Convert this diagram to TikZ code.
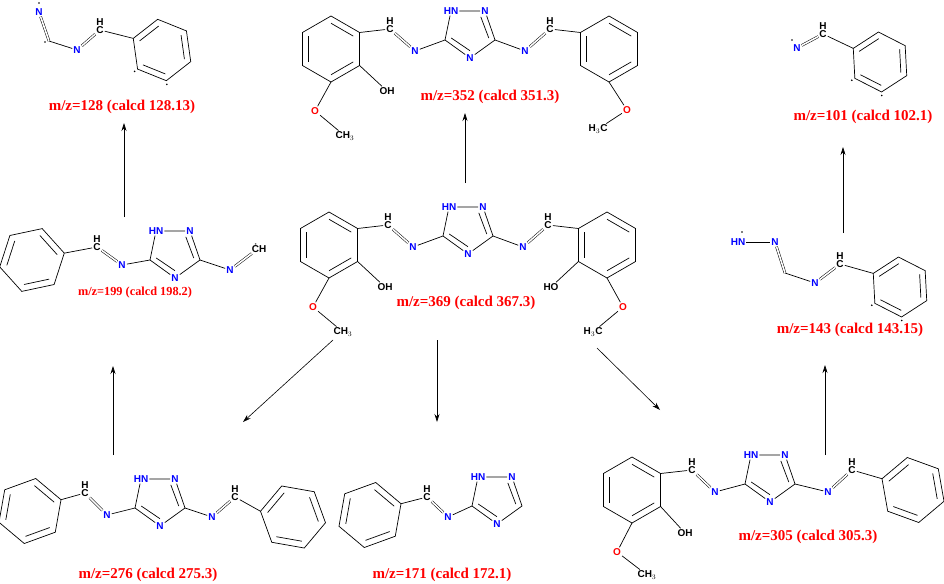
\documentclass[tikz,border=0pt]{standalone}
\usepackage{fontspec}
\setmainfont{Liberation Serif}
\setsansfont{Liberation Sans}
\usetikzlibrary{arrows.meta,calc}

\tikzset{
  bond/.style={line width=0.7pt},
  dbl/.style={double, double distance=1.6pt, line width=0.5pt},
  atom/.style={font=\sffamily\bfseries\fontsize{10}{10}\selectfont, inner sep=1pt},
  natom/.style={atom, text=blue},
  oatom/.style={atom, text=red},
  hlab/.style={atom, inner sep=0pt},
  catom/.style={atom, label={[hlab]90:H}},
  mz/.style={text=red, font=\bfseries\fontsize{15}{16}\selectfont},
  mzsmall/.style={text=red, font=\bfseries\fontsize{12.3}{13}\selectfont},
  frag/.style={-{Stealth[length=8pt,width=5pt]}, line width=0.6pt},
}

% ring: name, centre, rotation, radius
\newcommand\hexring[4]{%
  \coordinate (#1) at (#2);
  \foreach \k in {1,...,6}{\coordinate (#1-\k) at ($(#1)+({#3+60*\k-90}:#4)$);}
  \draw[bond] (#1-1) -- (#1-2) -- (#1-3) -- (#1-4) -- (#1-5) -- (#1-6) -- cycle;
  \foreach \a/\b in {2/3,4/5,6/1}
    \draw[bond] ($(#1)!0.78!(#1-\a)$) -- ($(#1)!0.78!(#1-\b)$);
}
% triazole: name, centre
\newcommand\triaz[2]{%
  \coordinate (#1) at (#2);
  \node[natom] (#1-b) at ($(#1)+(0,26)$) {N};
  \coordinate (#1-r) at ($(#1)+(25,8)$);
  \node[natom] (#1-tr) at ($(#1)+(15,-21)$) {N};
  \node[natom] (#1-tl) at ($(#1)+(-19,-21)$) {HN};
  \coordinate (#1-l) at ($(#1)+(-25,8)$);
  \draw[bond] (#1-l) -- (#1-tl) -- (#1-tr) -- (#1-r) -- (#1-b) -- (#1-l);
  \draw[bond] ($(#1)!0.72!(#1-tr)$) -- ($(#1)!0.75!(#1-r)$);
  \draw[bond] ($(#1)!0.72!(#1-b)$) -- ($(#1)!0.75!(#1-l)$);
}
% imine arm: name, triazole vertex, N, C, ring centre, ring rotation, ring vertex
\newcommand\arm[7]{%
  \node[natom] (#1-n) at (#3) {N};
  \node[catom] (#1-c) at (#4) {C};
  \hexring{#1-ring}{#5}{#6}{33}
  \draw[bond] (#2) -- (#1-n);
  \draw[dbl] (#1-n) -- (#1-c);
  \draw[bond] (#1-c) -- (#1-ring-#7);
}
\newcommand\rad[1]{\fill (#1) circle (0.9pt);}

\begin{document}
\begin{tikzpicture}[x=1pt,y=-1pt]
\useasboundingbox (0,0) rectangle (944,583);

% m/z 369
\begin{scope}[shift={(468,228)}]
  \triaz{c}{0,0}
  \arm{cl}{c-l}{-55,19}{-80,-3}{-139,17}{0}{1}
  \arm{cr}{c-r}{55,19}{80,-3}{139,17}{0}{5}
  \node[atom] (cl-oh) at (-83,59) {OH};
  \node[oatom] (cl-o) at (-155,79) {O};
  \node[atom] (cl-me) at (-125,104) {CH$_3$};
  \draw[bond] (cl-ring-2) -- (cl-oh);
  \draw[bond] (cl-ring-3) -- (cl-o) -- (cl-me);
  \node[atom] (cr-ho) at (83,59) {HO};
  \node[oatom] (cr-o) at (155,79) {O};
  \node[atom] (cr-me) at (125,104) {H$_3$C};
  \draw[bond] (cr-ring-4) -- (cr-ho);
  \draw[bond] (cr-ring-3) -- (cr-o) -- (cr-me);
\end{scope}

% m/z 352
\begin{scope}[shift={(470,32)}]
  \triaz{t}{0,0}
  \arm{tl}{t-l}{-55,19}{-80,-3}{-139,17}{0}{1}
  \arm{tr}{t-r}{55,19}{80,-3}{139,17}{0}{5}
  \node[atom] (tl-oh) at (-83,59) {OH};
  \node[oatom] (tl-o) at (-155,79) {O};
  \node[atom] (tl-me) at (-125,104) {CH$_3$};
  \draw[bond] (tl-ring-2) -- (tl-oh);
  \draw[bond] (tl-ring-3) -- (tl-o) -- (tl-me);
  \node[oatom] (tr-o) at (157,78) {O};
  \node[atom] (tr-me) at (128,97) {H$_3$C};
  \draw[bond] (tr-ring-3) -- (tr-o) -- (tr-me);
\end{scope}

% m/z 305
\begin{scope}[shift={(770,476)}]
  \triaz{e}{0,0}
  \arm{el}{e-l}{-55,16}{-78,-6}{-138,14}{0}{1}
  \arm{er}{e-r}{58,16}{82,-6}{143,14}{50}{4}
  \node[atom] (el-oh) at (-85,57) {OH};
  \node[oatom] (el-o) at (-153,76) {O};
  \node[atom] (el-me) at (-123,99) {CH$_3$};
  \draw[bond] (el-ring-2) -- (el-oh);
  \draw[bond] (el-ring-3) -- (el-o) -- (el-me);
\end{scope}

% m/z 276
\begin{scope}[shift={(160,500)}]
  \triaz{w}{0,0}
  \arm{wl}{w-l}{-53,15}{-75,-7}{-130,11}{10}{1}
  \arm{wr}{w-r}{52,17}{75,-3}{133,17}{40}{4}
\end{scope}

% m/z 171
\begin{scope}[shift={(497,498)}]
  \triaz{s}{0,0}
  \arm{sl}{s-l}{-49,19}{-70,-1}{-127,17}{10}{1}
\end{scope}

% m/z 199
\begin{scope}[shift={(175,252)}]
  \triaz{h}{0,0}
  \arm{hl}{h-l}{-53,13}{-78,-5}{-143,8}{18}{1}
  \node[natom] (h-rn) at (55,18) {N};
  \node[atom] (h-rc) at (84,-4) {\.CH};
  \draw[bond] (h-r) -- (h-rn);
  \draw[dbl] (h-rn) -- (h-rc);
\end{scope}

% m/z 128
\node[natom] (a-n1) at (39,12) {N};
\rad{39,3}
\coordinate (a-c1) at (49,41);
\rad{45,42}
\node[natom] (a-n2) at (77,50) {N};
\node[catom] (a-c2) at (100,30) {C};
\hexring{a-ring}{162,50}{52}{31}
\rad{$(a-ring)!1.12!(a-ring-3)$}
\rad{$(a-ring)!1.12!(a-ring-2)$}
\draw[dbl] (a-n1) -- (a-c1);
\draw[bond] (a-c1) -- (a-n2);
\draw[dbl] (a-n2) -- (a-c2);
\draw[bond] (a-c2) -- (a-ring-4);

% m/z 101
\node[natom] (b-n) at (797,48) {N};
\rad{792,40}
\node[catom] (b-c) at (823,34) {C};
\hexring{b-ring}{880,62}{57}{30}
\rad{$(b-ring)!1.12!(b-ring-3)$}
\rad{$(b-ring)!1.12!(b-ring-2)$}
\draw[dbl] (b-n) -- (b-c);
\draw[bond] (b-c) -- (b-ring-4);

% m/z 143
\node[natom] (d-hn) at (738,242) {HN};
\rad{742,232}
\node[natom] (d-n1) at (775,242) {N};
\coordinate (d-c1) at (785,273);
\node[natom] (d-n2) at (815,283) {N};
\node[catom] (d-c2) at (840,264) {C};
\hexring{d-ring}{900,287}{57}{30}
\rad{$(d-ring)!1.12!(d-ring-3)$}
\rad{$(d-ring)!1.12!(d-ring-2)$}
\draw[bond] (d-hn) -- (d-n1);
\draw[dbl] (d-n1) -- (d-c1);
\draw[bond] (d-c1) -- (d-n2);
\draw[dbl] (d-n2) -- (d-c2);
\draw[bond] (d-c2) -- (d-ring-4);

% labels
\node[mz] (l352) at (490,97) {m/z=352 (calcd 351.3)};
\node[mz] (l369) at (466,303) {m/z=369 (calcd 367.3)};
\node[mz] (l128) at (122,107) {m/z=128 (calcd 128.13)};
\node[mz] (l101) at (863,117) {m/z=101 (calcd 102.1)};
\node[mzsmall] (l199) at (135,293) {m/z=199 (calcd 198.2)};
\node[mz] (l143) at (850,330) {m/z=143 (calcd 143.15)};
\node[mz] (l276) at (148,575) {m/z=276 (calcd 275.3)};
\node[mz] (l171) at (442,575) {m/z=171 (calcd 172.1)};
\node[mz] (l305) at (808,537) {m/z=305 (calcd 305.3)};

% fragmentation arrows
\coordinate (p1) at (465,183); \coordinate (q1) at (465,113);
\coordinate (p2) at (124,217); \coordinate (q2) at (124,123);
\coordinate (p3) at (113,455); \coordinate (q3) at (113,366);
\coordinate (p4) at (843,233); \coordinate (q4) at (843,147);
\coordinate (p5) at (825,455); \coordinate (q5) at (825,365);
\coordinate (p6) at (333,340); \coordinate (q6) at (243,422);
\coordinate (p7) at (437,340); \coordinate (q7) at (437,422);
\coordinate (p8) at (597,348); \coordinate (q8) at (660,410);
\foreach \i in {1,...,8} \draw[frag] (p\i) -- (q\i);
\end{tikzpicture}
\end{document}
